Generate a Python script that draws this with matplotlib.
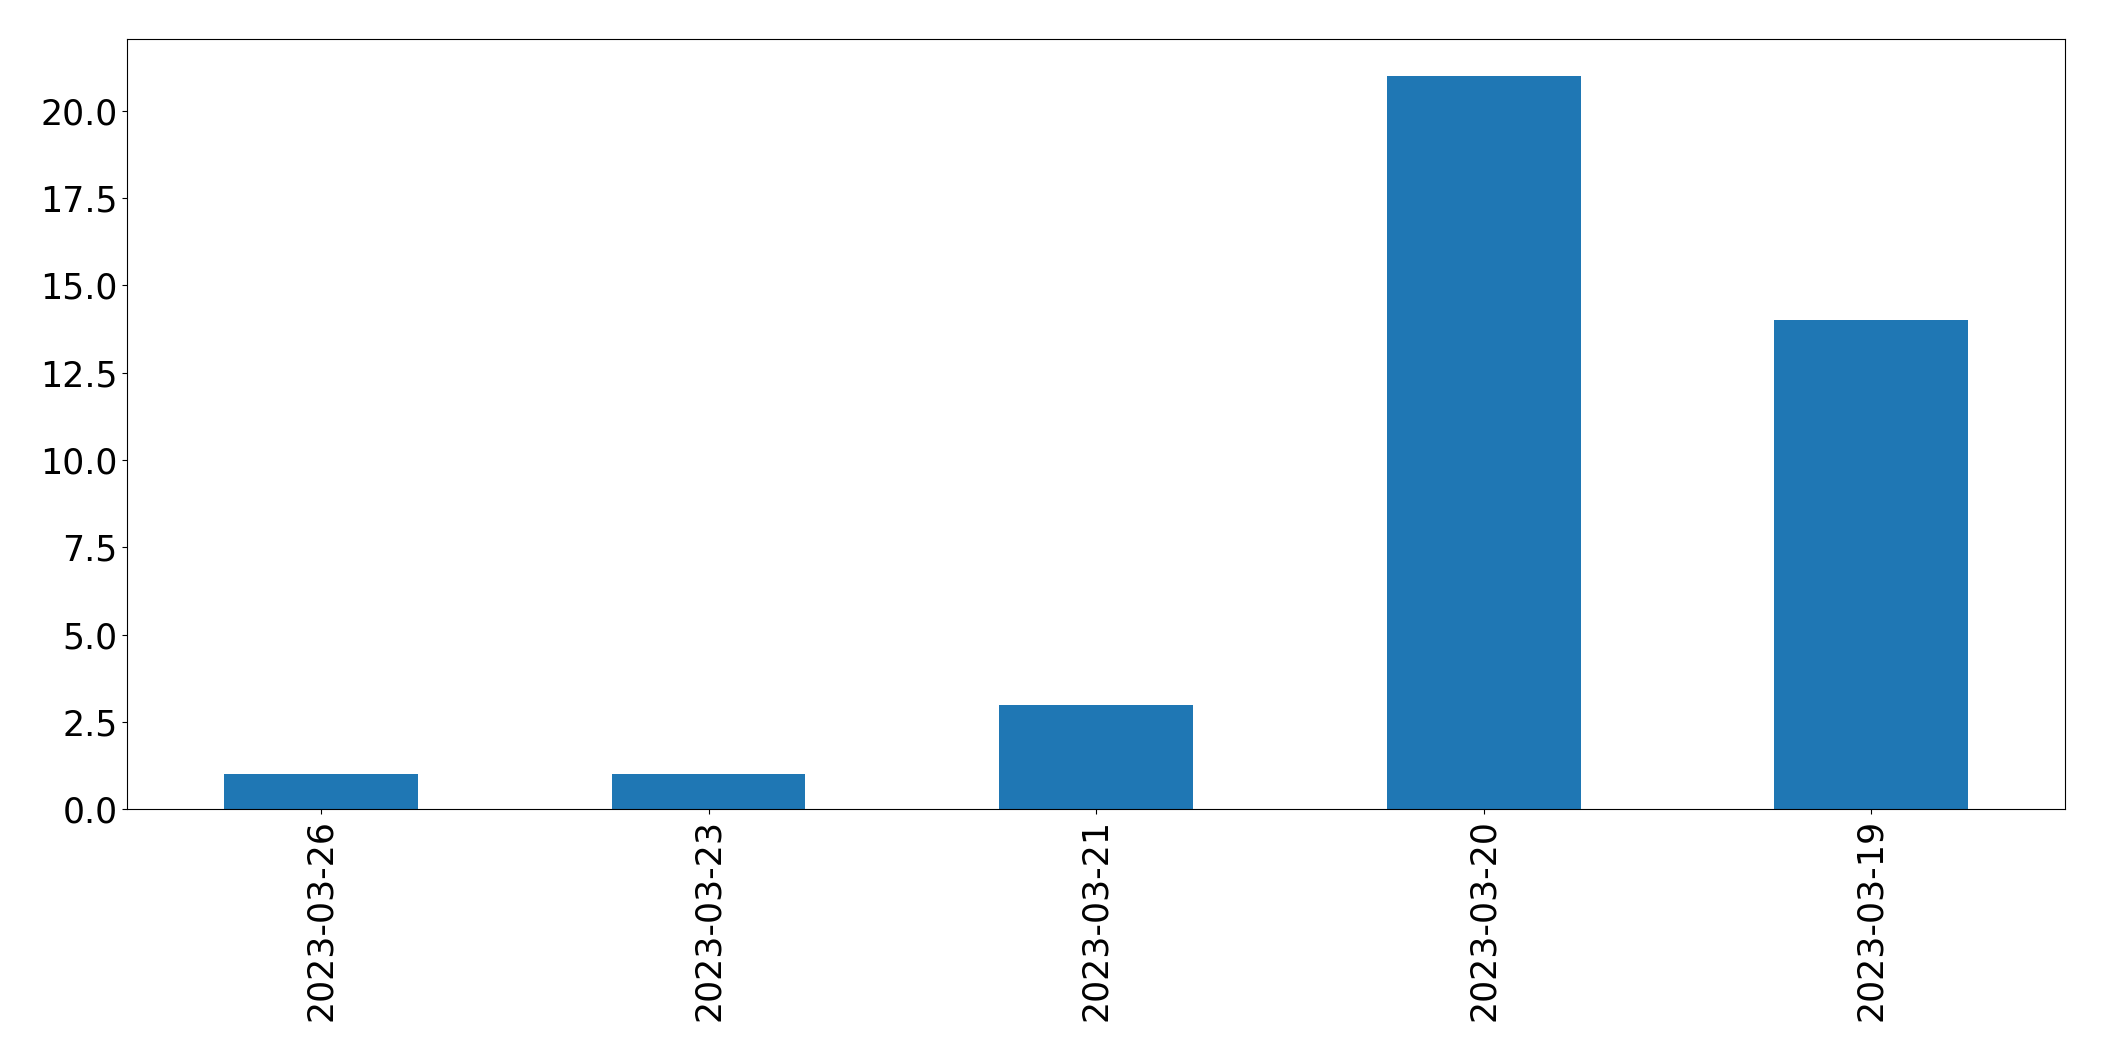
import pandas as pd
import matplotlib
matplotlib.use('Agg')
import matplotlib.pyplot as plt

dates = ['2023-03-26', '2023-03-23', '2023-03-21', '2023-03-20', '2023-03-19']
counts = [1, 1, 3, 21, 14]

s = pd.Series(counts, index=dates)

fig = plt.figure(figsize=(21.04, 10.61), dpi=100)
ax = fig.add_axes([127.3 / 2104, 1 - 809.3 / 1061, (2065 - 127.3) / 2104, (809.3 - 39.3) / 1061])
s.plot(kind='bar', ax=ax, color='#1f77b4')
ax.tick_params(axis='both', labelsize=25)
fig.savefig('out.png', dpi=100)
